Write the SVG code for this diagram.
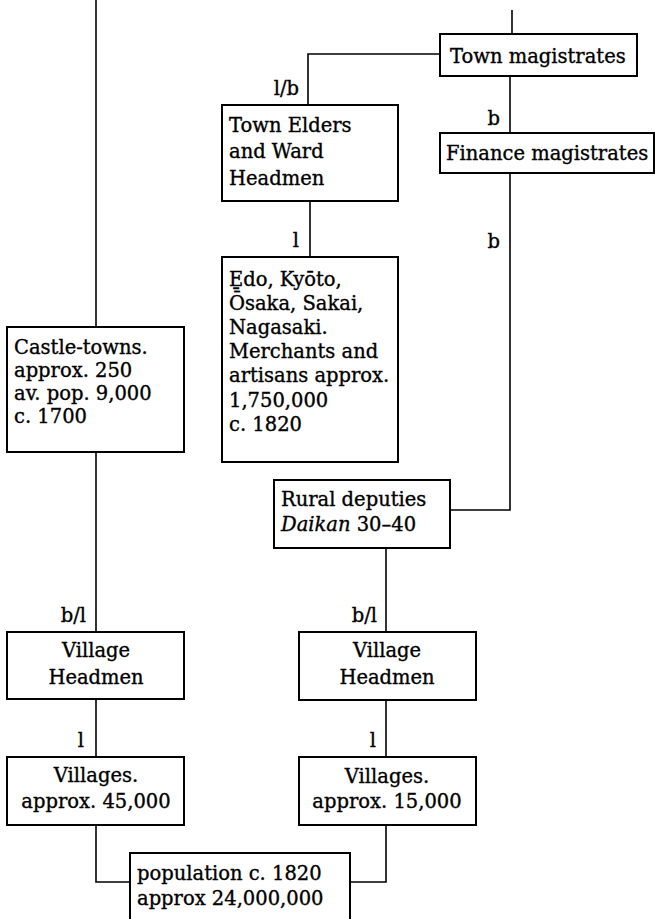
<svg xmlns="http://www.w3.org/2000/svg" width="655" height="919" viewBox="0 0 655 919">
<style>
  .box { fill: #fff; stroke: #000; stroke-width: 2; }
  .ln { fill: none; stroke: #000; stroke-width: 1.6; }
  text { font-family: "DejaVu Serif", "Liberation Serif", serif; font-size: 19.5px; fill: #000; stroke: #000; stroke-width: 0.35; }
  .c { text-anchor: middle; }
  .lbl { text-anchor: end; }
</style>
<rect width="655" height="919" fill="#fff"/>
<g id="connectors">
  <polyline class="ln" points="96,0 96,327"/>
  <polyline class="ln" points="96,452 96,632"/>
  <polyline class="ln" points="96,699 96,757"/>
  <polyline class="ln" points="96,825 96,882 130,882"/>
  <polyline class="ln" points="386,825 386,882 350,882"/>
  <polyline class="ln" points="386,700 386,757"/>
  <polyline class="ln" points="386,548 386,632"/>
  <polyline class="ln" points="512,10 512,34"/>
  <polyline class="ln" points="440,54 308,54 308,105"/>
  <polyline class="ln" points="510,76 510,133"/>
  <polyline class="ln" points="510,173 510,510 450,510"/>
  <polyline class="ln" points="310,201 310,257"/>
  <text class="lbl" x="299" y="95">l/b</text>
  <text class="lbl" x="299" y="247">l</text>
  <text class="lbl" x="500" y="125">b</text>
  <text class="lbl" x="500" y="248">b</text>
  <text class="lbl" x="86" y="622">b/l</text>
  <text class="lbl" x="84" y="747">l</text>
  <text class="lbl" x="377" y="622">b/l</text>
  <text class="lbl" x="376" y="747">l</text>
</g>
<g id="town-magistrates">
  <rect class="box" x="440" y="34" width="197" height="42"/>
  <text x="450" y="63">Town magistrates</text>
</g>
<g id="finance-magistrates">
  <rect class="box" x="440" y="133" width="214" height="40"/>
  <text x="446" y="160">Finance magistrates</text>
</g>
<g id="town-elders">
  <rect class="box" x="222" y="105" width="176" height="96"/>
  <text x="229" y="132">Town Elders</text>
  <text x="229" y="158">and Ward</text>
  <text x="229" y="185">Headmen</text>
</g>
<g id="cities">
  <rect class="box" x="222" y="257" width="176" height="205"/>
  <text x="229" y="286">E̱do, Kyōto,</text>
  <text x="229" y="310">Ōsaka, Sakai,</text>
  <text x="229" y="334">Nagasaki.</text>
  <text x="229" y="358">Merchants and</text>
  <text x="229" y="382">artisans approx.</text>
  <text x="229" y="407">1,750,000</text>
  <text x="229" y="431">c. 1820</text>
</g>
<g id="castle-towns">
  <rect class="box" x="7" y="327" width="177" height="125"/>
  <text x="14" y="354">Castle-towns.</text>
  <text x="14" y="377">approx. 250</text>
  <text x="14" y="400">av. pop. 9,000</text>
  <text x="14" y="423">c. 1700</text>
</g>
<g id="rural-deputies">
  <rect class="box" x="274" y="480" width="176" height="68"/>
  <text x="281" y="506">Rural deputies</text>
  <text x="281" y="531"><tspan font-style="italic">Daikan</tspan> 30–40</text>
</g>
<g id="village-headmen-left">
  <rect class="box" x="7" y="632" width="177" height="67"/>
  <text class="c" x="96" y="657">Village</text>
  <text class="c" x="96" y="684">Headmen</text>
</g>
<g id="village-headmen-right">
  <rect class="box" x="299" y="632" width="177" height="68"/>
  <text class="c" x="387" y="657">Village</text>
  <text class="c" x="387" y="684">Headmen</text>
</g>
<g id="villages-left">
  <rect class="box" x="7" y="757" width="177" height="68"/>
  <text class="c" x="96" y="782">Villages.</text>
  <text class="c" x="96" y="808">approx. 45,000</text>
</g>
<g id="villages-right">
  <rect class="box" x="299" y="757" width="177" height="68"/>
  <text class="c" x="387" y="783">Villages.</text>
  <text class="c" x="387" y="808">approx. 15,000</text>
</g>
<g id="population">
  <rect class="box" x="130" y="853" width="220" height="80"/>
  <text x="137" y="880">population c. 1820</text>
  <text x="137" y="905">approx 24,000,000</text>
</g>
</svg>
